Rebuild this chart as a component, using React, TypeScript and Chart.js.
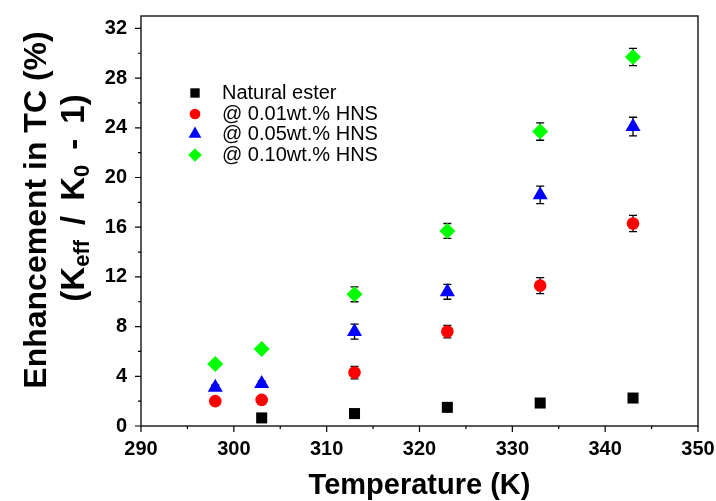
import React, { useEffect, useRef } from "react";
import { Chart, registerables } from "chart.js";

Chart.register(...registerables);

// ---- data ----
const temperatures = [298, 303, 313, 323, 333, 343];
const naturalEster = [null, 0.65, 1.0, 1.5, 1.85, 2.25];
const hns001 = [2.0, 2.1, 4.3, 7.6, 11.3, 16.3];
const hns005 = [3.1, 3.4, 7.6, 10.8, 18.6, 24.1];
const hns010 = [5.0, 6.2, 10.6, 15.7, 23.7, 29.7];
const errEster = [0, 0, 0, 0, 0, 0];
const err001 = [0.2, 0.2, 0.5, 0.5, 0.65, 0.65];
const err005 = [0.2, 0.2, 0.6, 0.6, 0.7, 0.75];
const err010 = [0.2, 0.2, 0.6, 0.6, 0.7, 0.7];

const seriesLabels = ["Natural ester", "@ 0.01wt.% HNS", "@ 0.05wt.% HNS", "@ 0.10wt.% HNS"];
const xTickValues = [290, 300, 310, 320, 330, 340, 350];
const yTickValues = [0, 4, 8, 12, 16, 20, 24, 28, 32];

const FONT = "'Liberation Sans', Arial, sans-serif";

const seriesValues = [naturalEster, hns001, hns005, hns010];
const seriesErrors = [errEster, err001, err005, err010];
const seriesColors = ["#000000", "#ff0000", "#0000ff", "#00ff00"];
const seriesShapes = ["rect", "circle", "triangle", "rectRot"];
const seriesRadius = [7.8, 6.3, 8.7, 8];

function drawMarker(ctx: CanvasRenderingContext2D, shape: string, r: number, x: number, y: number) {
  ctx.beginPath();
  if (shape === "rect") {
    const s = r * Math.SQRT1_2;
    ctx.rect(x - s, y - s, 2 * s, 2 * s);
  } else if (shape === "circle") {
    ctx.arc(x, y, r, 0, Math.PI * 2);
  } else if (shape === "triangle") {
    ctx.moveTo(x, y - r);
    ctx.lineTo(x + r * Math.sin(Math.PI / 3), y + r * 0.5);
    ctx.lineTo(x - r * Math.sin(Math.PI / 3), y + r * 0.5);
    ctx.closePath();
  } else {
    ctx.moveTo(x, y - r);
    ctx.lineTo(x + r, y);
    ctx.lineTo(x, y + r);
    ctx.lineTo(x - r, y);
    ctx.closePath();
  }
  ctx.fill();
}

const framePlugin = {
  id: "frameTicks",
  beforeDatasetsDraw(chart: any) {
    const ctx = chart.ctx;
    const xs = chart.scales.x;
    const ys = chart.scales.y;
    ctx.save();
    ctx.strokeStyle = "#000";
    ctx.lineWidth = 1.3;
    chart.data.datasets.forEach((ds: any, di: number) => {
      const errs = seriesErrors[di];
      ds.data.forEach((p: any) => {
        if (!p || p.y == null || !errs[p.idx]) return;
        const e = errs[p.idx];
        const px = xs.getPixelForValue(p.x);
        const top = ys.getPixelForValue(p.y + e);
        const bot = ys.getPixelForValue(p.y - e);
        ctx.beginPath();
        ctx.moveTo(px, top);
        ctx.lineTo(px, bot);
        ctx.moveTo(px - 4, top);
        ctx.lineTo(px + 4, top);
        ctx.moveTo(px - 4, bot);
        ctx.lineTo(px + 4, bot);
        ctx.stroke();
      });
    });
    ctx.restore();
  },
  afterDraw(chart: any) {
    const ctx = chart.ctx;
    const a = chart.chartArea;
    const xs = chart.scales.x;
    const ys = chart.scales.y;
    ctx.save();
    ctx.strokeStyle = "#222";
    ctx.lineWidth = 1.5;
    ctx.strokeRect(a.left, a.top, a.right - a.left, a.bottom - a.top);
    ctx.strokeStyle = "#000";
    ctx.lineWidth = 1.2;
    ctx.beginPath();
    for (let v = 290; v <= 350; v += 5) {
      const px = xs.getPixelForValue(v);
      const len = v % 10 === 0 ? 6 : 3;
      ctx.moveTo(px, a.bottom);
      ctx.lineTo(px, a.bottom + len);
    }
    for (let v = 0; v <= 32; v += 2) {
      const py = ys.getPixelForValue(v);
      const len = v % 4 === 0 ? 6 : 3;
      ctx.moveTo(a.left, py);
      ctx.lineTo(a.left - len, py);
    }
    ctx.stroke();

    // legend
    const legendX = 195;
    const textX = 222;
    const rowYs = [93, 114, 134, 155];
    seriesLabels.forEach((label, i) => {
      const y = rowYs[i];
      ctx.fillStyle = seriesColors[i];
      drawMarker(ctx, seriesShapes[i], seriesRadius[i] * 0.85, legendX, y);
      ctx.fillStyle = "#000";
      ctx.font = `20px ${FONT}`;
      ctx.textAlign = "left";
      ctx.textBaseline = "middle";
      ctx.fillText(label, textX, y);
    });

    // x title
    ctx.fillStyle = "#000";
    ctx.font = `bold 29px ${FONT}`;
    ctx.textAlign = "center";
    ctx.textBaseline = "middle";
    ctx.fillText("Temperature (K)", (a.left + a.right) / 2, 486);

    // y title line 1
    ctx.save();
    ctx.translate(37, 210);
    ctx.rotate(-Math.PI / 2);
    ctx.font = `bold 32px ${FONT}`;
    ctx.textAlign = "center";
    ctx.textBaseline = "middle";
    ctx.fillText("Enhancement in TC (%)", 0, 0);
    ctx.restore();

    // y title line 2 with subscripts
    ctx.save();
    ctx.translate(75, 198);
    ctx.rotate(-Math.PI / 2);
    const main = `bold 33px ${FONT}`;
    const sub = `bold 22px ${FONT}`;
    const gap = 15;
    const parts: [string, boolean, number][] = [
      ["(K", false, 0],
      ["eff", true, gap],
      ["/", false, gap],
      ["K", false, 0],
      ["0", true, gap],
      ["-", false, gap],
      ["1)", false, 0],
    ];
    let total = 0;
    parts.forEach(([t, s, g]) => {
      ctx.font = s ? sub : main;
      total += ctx.measureText(t).width + g;
    });
    let cx = -total / 2;
    ctx.textAlign = "left";
    ctx.textBaseline = "middle";
    parts.forEach(([t, s, g]) => {
      ctx.font = s ? sub : main;
      ctx.fillText(t, cx, s ? 8 : 0);
      cx += ctx.measureText(t).width + g;
    });
    ctx.restore();

    ctx.restore();
  },
};

export default function App() {
  const ref = useRef<HTMLCanvasElement | null>(null);
  useEffect(() => {
    if (!ref.current) return;
    const datasets = seriesLabels.map((label, i) => ({
      label,
      data: temperatures
        .map((t, j) => ({ x: t, y: seriesValues[i][j], idx: j }))
        .filter((p) => p.y != null),
      showLine: false,
      pointStyle: seriesShapes[i],
      pointRadius: seriesRadius[i],
      pointBackgroundColor: seriesColors[i],
      pointBorderColor: seriesColors[i],
      pointBorderWidth: 0,
      backgroundColor: seriesColors[i],
      borderColor: seriesColors[i],
    }));
    const chart = new Chart(ref.current, {
      type: "scatter",
      data: { datasets },
      options: {
        animation: false,
        responsive: false,
        layout: { padding: { top: 16, right: 18, left: 0, bottom: 0 } },
        plugins: { legend: { display: false }, tooltip: { enabled: false } },
        scales: {
          x: {
            type: "linear",
            min: 290,
            max: 350,
            afterBuildTicks: (s: any) => {
              s.ticks = xTickValues.map((v) => ({ value: v }));
            },
            ticks: { color: "#000", font: { family: FONT, size: 20, weight: "bold" }, padding: 11, maxRotation: 0, autoSkip: false },
            grid: { display: false, drawTicks: false },
            border: { display: false },
            afterFit: (s: any) => {
              s.height = 75;
              s.paddingLeft = 0;
              s.paddingRight = 0;
            },
          },
          y: {
            type: "linear",
            min: 0,
            max: 33,
            afterBuildTicks: (s: any) => {
              s.ticks = yTickValues.map((v) => ({ value: v }));
            },
            ticks: { color: "#000", font: { family: FONT, size: 20, weight: "bold" }, padding: 14, autoSkip: false },
            grid: { display: false, drawTicks: false },
            border: { display: false },
            afterFit: (s: any) => {
              s.width = 141;
              s.paddingTop = 0;
              s.paddingBottom = 0;
            },
          },
        },
      },
      plugins: [framePlugin],
    });
    return () => chart.destroy();
  }, []);
  return (
    <div style={{ position: "absolute", left: 0, top: 0, width: 716, height: 501, background: "#fff" }}>
      <canvas ref={ref} width={716} height={501} />
    </div>
  );
}
